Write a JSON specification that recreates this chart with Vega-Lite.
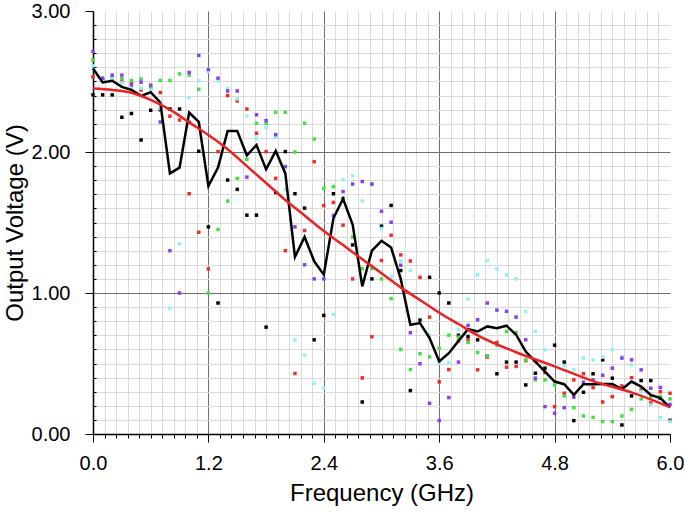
{
  "$schema": "https://vega.github.io/schema/vega-lite/v6.json",
  "width": 577,
  "height": 423,
  "autosize": {"type": "none"},
  "padding": {"left": 93, "top": 11, "right": 15, "bottom": 78},
  "background": "white",
  "config": {
    "view": {"stroke": null},
    "font": "Liberation Sans",
    "axis": {"labelFont": "Liberation Sans", "titleFont": "Liberation Sans", "labelColor": "black", "titleColor": "black", "tickColor": "black", "domainColor": "black", "titleFontWeight": "normal"}
  },
  "datasets": {
    "series": [
      {"f": 0.0, "k": 2.405, "r": 2.533, "g": 2.654, "c": 2.611, "p": 2.713, "m": 2.592},
      {"f": 0.1, "k": 2.405, "r": 2.51, "g": 2.51, "c": 2.51, "p": 2.524, "m": 2.493},
      {"f": 0.2, "k": 2.405, "r": 2.52, "g": 2.53, "c": 2.52, "p": 2.545, "m": 2.505},
      {"f": 0.3, "k": 2.246, "r": 2.507, "g": 2.52, "c": 2.49, "p": 2.545, "m": 2.462},
      {"f": 0.4, "k": 2.273, "r": 2.49, "g": 2.507, "c": 2.453, "p": 2.476, "m": 2.441},
      {"f": 0.5, "k": 2.085, "r": 2.44, "g": 2.517, "c": 2.453, "p": 2.495, "m": 2.398},
      {"f": 0.6, "k": 2.296, "r": 2.453, "g": 2.46, "c": 2.44, "p": 2.474, "m": 2.424},
      {"f": 0.7, "k": 2.30, "r": 2.422, "g": 2.507, "c": 2.31, "p": 2.213, "m": 2.351},
      {"f": 0.8, "k": 2.305, "r": 2.254, "g": 2.507, "c": 0.893, "p": 1.30, "m": 1.848},
      {"f": 0.9, "k": 2.305, "r": 2.227, "g": 2.554, "c": 1.35, "p": 1.00, "m": 1.889},
      {"f": 1.0, "k": 2.21, "r": 1.704, "g": 2.545, "c": 2.386, "p": 2.564, "m": 2.28},
      {"f": 1.1, "k": 2.005, "r": 1.431, "g": 2.445, "c": 2.505, "p": 2.685, "m": 2.213},
      {"f": 1.2, "k": 1.469, "r": 1.171, "g": 1.00, "c": 2.569, "p": 2.585, "m": 1.758},
      {"f": 1.3, "k": 0.929, "r": 2.003, "g": 1.45, "c": 2.505, "p": 2.524, "m": 1.889},
      {"f": 1.4, "k": 1.801, "r": 2.40, "g": 1.652, "c": 2.45, "p": 2.433, "m": 2.149},
      {"f": 1.5, "k": 1.735, "r": 2.362, "g": 1.813, "c": 2.377, "p": 2.433, "m": 2.149},
      {"f": 1.6, "k": 1.552, "r": 2.305, "g": 1.947, "c": 2.254, "p": 1.822, "m": 1.976},
      {"f": 1.7, "k": 1.552, "r": 2.133, "g": 2.204, "c": 2.097, "p": 2.264, "m": 2.05},
      {"f": 1.8, "k": 0.758, "r": 2.003, "g": 2.204, "c": 2.173, "p": 2.223, "m": 1.877},
      {"f": 1.9, "k": 1.713, "r": 1.813, "g": 2.282, "c": 2.104, "p": 2.123, "m": 2.007},
      {"f": 2.0, "k": 2.003, "r": 1.30, "g": 2.282, "c": 1.735, "p": 1.896, "m": 1.848},
      {"f": 2.1, "k": 1.704, "r": 0.429, "g": 2.00, "c": 0.668, "p": 1.469, "m": 1.256},
      {"f": 2.2, "k": 1.602, "r": 1.443, "g": 2.204, "c": 0.559, "p": 1.20, "m": 1.398},
      {"f": 2.3, "k": 0.668, "r": 1.931, "g": 2.092, "c": 0.36, "p": 1.10, "m": 1.225},
      {"f": 2.4, "k": 0.841, "r": 1.621, "g": 1.742, "c": 0.327, "p": 1.10, "m": 1.13},
      {"f": 2.5, "k": 1.704, "r": 1.642, "g": 1.754, "c": 0.848, "p": 1.55, "m": 1.53},
      {"f": 2.6, "k": 1.67, "r": 1.481, "g": 1.666, "c": 1.803, "p": 1.72, "m": 1.668},
      {"f": 2.7, "k": 1.341, "r": 1.10, "g": 1.398, "c": 1.832, "p": 1.773, "m": 1.486},
      {"f": 2.8, "k": 0.227, "r": 0.398, "g": 1.173, "c": 1.652, "p": 1.791, "m": 1.047},
      {"f": 2.9, "k": 1.10, "r": 0.69, "g": 1.173, "c": 1.764, "p": 1.773, "m": 1.30},
      {"f": 3.0, "k": 1.474, "r": 1.23, "g": 1.10, "c": 1.457, "p": 1.58, "m": 1.37},
      {"f": 3.1, "k": 1.621, "r": 1.41, "g": 0.96, "c": 1.118, "p": 1.502, "m": 1.322},
      {"f": 3.2, "k": 1.159, "r": 1.27, "g": 0.60, "c": 1.227, "p": 1.197, "m": 1.10},
      {"f": 3.3, "k": 0.308, "r": 1.227, "g": 0.457, "c": 1.161, "p": 0.718, "m": 0.775},
      {"f": 3.4, "k": 0.808, "r": 1.111, "g": 0.569, "c": 0.95, "p": 0.498, "m": 0.787},
      {"f": 3.5, "k": 1.111, "r": 0.829, "g": 0.547, "c": 0.70, "p": 0.218, "m": 0.68},
      {"f": 3.6, "k": 1.00, "r": 0.37, "g": 0.609, "c": 0.502, "p": 0.095, "m": 0.514},
      {"f": 3.7, "k": 0.929, "r": 0.457, "g": 0.701, "c": 0.507, "p": 0.258, "m": 0.573},
      {"f": 3.8, "k": 0.70, "r": 0.66, "g": 0.687, "c": 0.739, "p": 0.51, "m": 0.66},
      {"f": 3.9, "k": 0.692, "r": 0.668, "g": 0.649, "c": 0.957, "p": 0.77, "m": 0.744},
      {"f": 4.0, "k": 0.668, "r": 0.455, "g": 0.578, "c": 1.128, "p": 0.81, "m": 0.727},
      {"f": 4.1, "k": 0.55, "r": 0.547, "g": 0.554, "c": 1.23, "p": 0.929, "m": 0.763},
      {"f": 4.2, "k": 0.427, "r": 0.649, "g": 0.63, "c": 1.171, "p": 0.879, "m": 0.751},
      {"f": 4.3, "k": 0.51, "r": 0.474, "g": 0.727, "c": 1.128, "p": 0.87, "m": 0.768},
      {"f": 4.4, "k": 0.51, "r": 0.479, "g": 0.72, "c": 1.10, "p": 0.829, "m": 0.704},
      {"f": 4.5, "k": 0.348, "r": 0.52, "g": 0.526, "c": 0.87, "p": 0.668, "m": 0.585},
      {"f": 4.6, "k": 0.431, "r": 0.519, "g": 0.384, "c": 0.727, "p": 0.396, "m": 0.514},
      {"f": 4.7, "k": 0.467, "r": 0.436, "g": 0.384, "c": 0.597, "p": 0.194, "m": 0.443},
      {"f": 4.8, "k": 0.63, "r": 0.194, "g": 0.348, "c": 0.483, "p": 0.147, "m": 0.372},
      {"f": 4.9, "k": 0.51, "r": 0.289, "g": 0.27, "c": 0.483, "p": 0.187, "m": 0.353},
      {"f": 5.0, "k": 0.095, "r": 0.384, "g": 0.187, "c": 0.455, "p": 0.261, "m": 0.277},
      {"f": 5.1, "k": 0.296, "r": 0.427, "g": 0.128, "c": 0.538, "p": 0.367, "m": 0.353},
      {"f": 5.2, "k": 0.427, "r": 0.329, "g": 0.118, "c": 0.526, "p": 0.384, "m": 0.353},
      {"f": 5.3, "k": 0.526, "r": 0.227, "g": 0.088, "c": 0.545, "p": 0.417, "m": 0.355},
      {"f": 5.4, "k": 0.396, "r": 0.265, "g": 0.088, "c": 0.597, "p": 0.467, "m": 0.355},
      {"f": 5.5, "k": 0.064, "r": 0.341, "g": 0.128, "c": 0.55, "p": 0.538, "m": 0.318},
      {"f": 5.6, "k": 0.27, "r": 0.40, "g": 0.175, "c": 0.49, "p": 0.526, "m": 0.372},
      {"f": 5.7, "k": 0.379, "r": 0.313, "g": 0.249, "c": 0.30, "p": 0.455, "m": 0.336},
      {"f": 5.8, "k": 0.379, "r": 0.22, "g": 0.265, "c": 0.206, "p": 0.325, "m": 0.277},
      {"f": 5.9, "k": 0.254, "r": 0.30, "g": 0.265, "c": 0.116, "p": 0.33, "m": 0.254},
      {"f": 6.0, "k": 0.097, "r": 0.289, "g": 0.249, "c": 0.09, "p": 0.21, "m": 0.187}
    ],
    "fit": [
      {"f": 0.0, "y": 2.45}, {"f": 0.2, "y": 2.44}, {"f": 0.4, "y": 2.42}, {"f": 0.6, "y": 2.37},
      {"f": 0.8, "y": 2.30}, {"f": 1.0, "y": 2.21}, {"f": 1.2, "y": 2.12}, {"f": 1.4, "y": 2.02},
      {"f": 1.6, "y": 1.90}, {"f": 1.8, "y": 1.78}, {"f": 2.0, "y": 1.66}, {"f": 2.2, "y": 1.55},
      {"f": 2.4, "y": 1.44}, {"f": 2.6, "y": 1.34}, {"f": 2.8, "y": 1.24}, {"f": 3.0, "y": 1.14},
      {"f": 3.2, "y": 1.04}, {"f": 3.4, "y": 0.95}, {"f": 3.6, "y": 0.86}, {"f": 3.8, "y": 0.78},
      {"f": 4.0, "y": 0.70}, {"f": 4.4, "y": 0.58}, {"f": 4.8, "y": 0.48}, {"f": 5.2, "y": 0.375},
      {"f": 5.6, "y": 0.295}, {"f": 6.0, "y": 0.19}
    ]
  },
  "layer": [
    {
      "data": {"name": "series"},
      "transform": [{"fold": ["k", "r", "g", "c", "p"], "as": ["s", "v"]}],
      "mark": {"type": "point", "shape": "square", "filled": true, "size": 12, "opacity": 1, "strokeWidth": 0},
      "encoding": {
        "x": {"field": "f", "type": "quantitative", "scale": {"domain": [0, 6], "nice": false, "zero": false},
          "axis": {"orient": "bottom", "values": [0.12,0.24,0.36,0.48,0.6,0.72,0.84,0.96,1.08,1.32,1.44,1.56,1.68,1.8,1.92,2.04,2.16,2.28,2.52,2.64,2.76,2.88,3.0,3.12,3.24,3.36,3.48,3.72,3.84,3.96,4.08,4.2,4.32,4.44,4.56,4.68,4.92,5.04,5.16,5.28,5.4,5.52,5.64,5.76,5.88],
            "grid": true, "gridColor": "#dadada", "gridWidth": 1, "tickSize": 4, "tickWidth": 1, "labels": false, "domain": false, "title": null}},
        "y": {"field": "v", "type": "quantitative", "scale": {"domain": [0, 3], "nice": false, "zero": false},
          "axis": {"orient": "left", "values": [0.1,0.2,0.3,0.4,0.5,0.6,0.7,0.8,0.9,1.1,1.2,1.3,1.4,1.5,1.6,1.7,1.8,1.9,2.1,2.2,2.3,2.4,2.5,2.6,2.7,2.8,2.9],
            "grid": true, "gridColor": "#dadada", "gridWidth": 1, "tickSize": -3, "tickWidth": 1, "labels": false, "domain": false, "title": null}},
        "color": {"field": "s", "type": "nominal", "scale": {"domain": ["k", "r", "g", "c", "p"], "range": ["#000000", "#f22a22", "#3ee23e", "#8cf4f4", "#8a3cf2"]}, "legend": null}
      }
    },
    {
      "data": {"name": "series"},
      "mark": {"type": "line", "color": "#000000", "strokeWidth": 2.5},
      "encoding": {
        "x": {"field": "f", "type": "quantitative",
          "axis": {"orient": "bottom", "values": [0, 1.2, 2.4, 3.6, 4.8, 6.0], "format": ".1f",
            "grid": true, "gridColor": "#6e6e6e", "gridWidth": 1,
            "gridOpacity": {"condition": {"test": "datum.value <= 0 || datum.value >= 6", "value": 0}, "value": 1},
            "tickSize": 8, "tickWidth": 1, "domain": true, "domainWidth": 1.5, "labelFlush": false,
            "labelFontSize": 20, "labelPadding": 11, "title": "Frequency (GHz)", "titleFontSize": 24, "titlePadding": 8}},
        "y": {"field": "m", "type": "quantitative",
          "axis": {"orient": "left", "values": [0, 1, 2, 3], "format": ".2f",
            "grid": true, "gridColor": "#6e6e6e", "gridWidth": 1,
            "gridOpacity": {"condition": {"test": "datum.value <= 0 || datum.value >= 3", "value": 0}, "value": 1},
            "tickSize": 8, "tickWidth": 1, "domain": true, "domainWidth": 1.5, "labelFlush": false,
            "labelFontSize": 20, "labelPadding": 15, "title": "Output Voltage (V)", "titleFontSize": 24, "titlePadding": 4}}
      }
    },
    {
      "data": {"name": "fit"},
      "mark": {"type": "line", "color": "#ee2020", "strokeWidth": 2.5, "interpolate": "monotone"},
      "encoding": {
        "x": {"field": "f", "type": "quantitative", "axis": null},
        "y": {"field": "y", "type": "quantitative", "axis": null}
      }
    }
  ],
  "resolve": {"axis": {"x": "independent", "y": "independent"}}
}
